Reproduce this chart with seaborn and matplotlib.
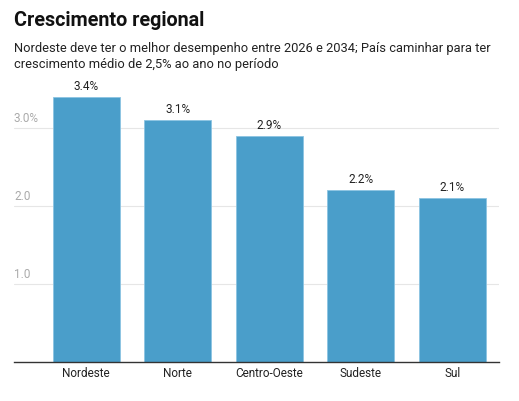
import numpy as np
import pandas as pd
from matplotlib import pyplot as plt
import seaborn as sns

regioes = ["Nordeste", "Norte", "Centro-Oeste", "Sudeste", "Sul"]
crescimento = [3.4, 3.1, 2.9, 2.2, 2.1]
y_ticks = [1.0, 2.0, 3.0]
y_tick_labels = ["1.0", "2.0", "3.0%"]

TITLE = "Crescimento regional"
SUBTITLE = ("Nordeste deve ter o melhor desempenho entre 2026 e 2034; País caminhar para ter\n"
            "crescimento médio de 2,5% ao ano no período")

sns.set_style("white")
plt.rcParams["font.family"] = ["Roboto", "DejaVu Sans"]

df = pd.DataFrame({"regiao": regioes, "crescimento": crescimento})

fig = plt.figure(figsize=(5.19, 4.01), dpi=100)
ax = fig.add_axes([14 / 519, 1 - 362 / 401, 485 / 519, 282 / 401])

sns.barplot(data=df, x="regiao", y="crescimento", color="#4a9eca", saturation=1,
            width=0.73, edgecolor="#8cc4e2", linewidth=0.6, ax=ax, zorder=2)

ax.set_xlim(-0.79, 4.51)
ax.set_ylim(0, 3.615)
ax.set_yticks(y_ticks)
ax.set_yticklabels([])
ax.tick_params(axis="y", length=0)
ax.tick_params(axis="x", length=0, labelsize=8.5, colors="#222222", pad=3.5)
ax.grid(axis="y", color="#e6e6e6", linewidth=0.8, zorder=0)
ax.set_xlabel("")
ax.set_ylabel("")
for side in ["top", "right", "left"]:
    ax.spines[side].set_visible(False)
ax.spines["bottom"].set_color("#333333")
ax.spines["bottom"].set_linewidth(1.0)

for t, lab in zip(y_ticks, y_tick_labels):
    ax.annotate(lab, xy=(0, t), xycoords=("axes fraction", "data"),
                xytext=(0, 1.8), textcoords="offset points",
                ha="left", va="bottom", fontsize=8.5, color="#aaaaaa")

for i, v in enumerate(crescimento):
    ax.annotate(f"{v:.1f}%", xy=(i, v), xytext=(0, 3), textcoords="offset points",
                ha="center", va="bottom", fontsize=8.5, color="#222222")

fig.text(14 / 519, 1 - 20 / 401, TITLE, fontsize=14.2, fontweight="bold",
         color="#111111", va="center", ha="left")
fig.text(14 / 519, 1 - 42 / 401, SUBTITLE, fontsize=9.3, color="#222222",
         va="top", ha="left", linespacing=1.3)

fig.savefig("out.png", dpi=100)
